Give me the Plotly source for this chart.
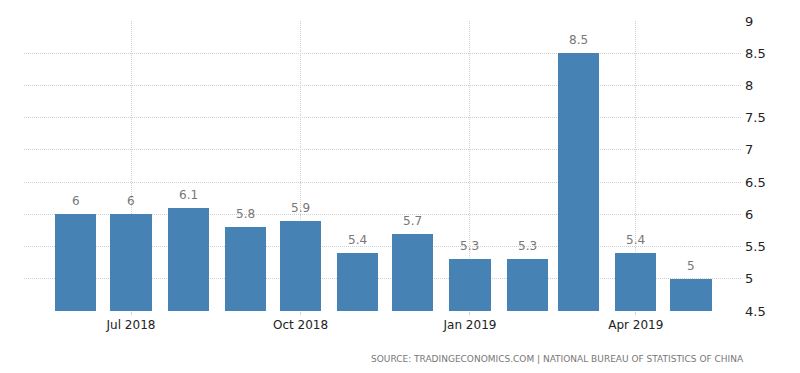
import plotly.graph_objects as go

months = ["2018-06-01", "2018-07-01", "2018-08-01", "2018-09-01", "2018-10-01", "2018-11-01",
          "2018-12-01", "2019-01-01", "2019-02-01", "2019-03-01", "2019-04-01", "2019-05-01"]
values = [6, 6, 6.1, 5.8, 5.9, 5.4, 5.7, 5.3, 5.3, 8.5, 5.4, 5]
labels = ["6", "6", "6.1", "5.8", "5.9", "5.4", "5.7", "5.3", "5.3", "8.5", "5.4", "5"]
x_ticks = ["2018-07-01", "2018-10-01", "2019-01-01", "2019-04-01"]
x_tick_labels = ["Jul 2018", "Oct 2018", "Jan 2019", "Apr 2019"]
y_ticks = [4.5, 5, 5.5, 6, 6.5, 7, 7.5, 8, 8.5, 9]
y_base = 4.5
source = "SOURCE: TRADINGECONOMICS.COM | NATIONAL BUREAU OF STATISTICS OF CHINA"

DAY_MS = 86400000

fig = go.Figure()
fig.add_trace(go.Bar(
    x=months, y=[v - y_base for v in values], base=y_base,
    width=[22.3 * DAY_MS] * len(months),
    marker=dict(color="#4682b4", line=dict(width=0)),
    hovertext=labels, hoverinfo="x+text",
))

for m, v, t in zip(months, values, labels):
    fig.add_annotation(x=m, y=v, text=t, showarrow=False, yanchor="bottom", yshift=4,
                       font=dict(family="DejaVu Sans", size=12, color="#777777"))

fig.add_annotation(xref="paper", yref="paper", x=1.006, y=-0.165, xanchor="right", yanchor="middle",
                   text=source, showarrow=False,
                   font=dict(family="DejaVu Sans", size=9, color="#777777"))

fig.update_layout(
    width=800, height=373,
    margin=dict(l=16, r=66, t=13, b=70),
    paper_bgcolor="white", plot_bgcolor="white",
    showlegend=False,
    bargap=0,
)
fig.update_xaxes(
    type="date",
    range=["2018-05-03T22:00", "2019-05-28T16:00"],
    tickvals=x_ticks, ticktext=x_tick_labels,
    showgrid=True, gridcolor="#cfcfcf", griddash="1px,1px", gridwidth=1,
    ticks="outside", ticklen=3, tickcolor="#cfcfcf",
    tickfont=dict(family="DejaVu Sans", size=12, color="#222222"),
    showline=False, zeroline=False, automargin=False,
)
fig.update_yaxes(
    side="right",
    range=[4.5, 9],
    tickvals=y_ticks, ticktext=[f"{v:g}" for v in y_ticks],
    showgrid=True, gridcolor="#cfcfcf", griddash="1px,1px", gridwidth=1,
    tickfont=dict(family="DejaVu Sans", size=13, color="#222222"),
    showline=False, zeroline=False, ticks="", ticklabelstandoff=2, automargin=False,
)

fig.write_html("out.html")
